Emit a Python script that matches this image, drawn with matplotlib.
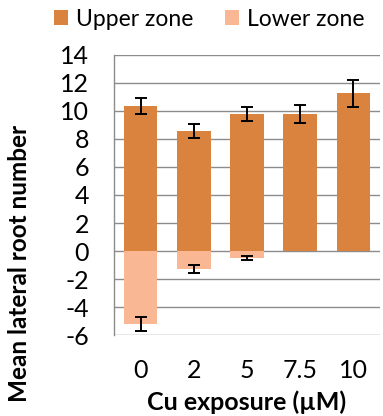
import matplotlib
matplotlib.use('Agg')
import matplotlib.pyplot as plt
import numpy as np

# Cu exposure levels and mean lateral root counts per zone
cu_levels = ['0', '2', '5', '7.5', '10']
upper_mean = [10.35, 8.6, 9.8, 9.8, 11.25]
upper_err = [0.6, 0.5, 0.5, 0.65, 0.98]
lower_mean = [-5.2, -1.3, -0.5, 0.0, 0.0]
lower_err = [0.5, 0.3, 0.13, 0.0, 0.0]
yticks = [-6, -4, -2, 0, 2, 4, 6, 8, 10, 12, 14]

upper_color = '#D9833F'
lower_color = '#F9B794'
grid_color = '#8C8C8C'

plt.rcParams['font.family'] = ['Lato', 'DejaVu Sans']

fig = plt.figure(figsize=(3.83, 4.16), dpi=100)
ax = fig.add_axes([0.2977, 0.1947, 0.6943, 0.6731])

x = np.arange(len(cu_levels))
width = 0.63
err_kw = dict(fmt='none', ecolor='black', elinewidth=1.4, capsize=4.3, capthick=1.4, zorder=4)

ax.bar(x, upper_mean, width, color=upper_color, label='Upper zone', zorder=3)
ax.bar(x, lower_mean, width, color=lower_color, label='Lower zone', zorder=3)
ax.errorbar(x, upper_mean, yerr=upper_err, **err_kw)
# no error bars where the lower zone had no roots
has_err = [i for i, e in enumerate(lower_err) if e > 0]
ax.errorbar(x[has_err], [lower_mean[i] for i in has_err],
            yerr=[lower_err[i] for i in has_err], **err_kw)

ax.set_xlim(-0.5, 4.5)
ax.set_ylim(-6, 14)
ax.set_yticks(yticks)
ax.set_yticklabels([str(t) for t in yticks])
ax.set_xticks(x)
ax.set_xticklabels(cu_levels)

ax.grid(axis='y', color=grid_color, linewidth=1.0, zorder=0)
ax.set_axisbelow(True)
for side in ['top', 'right', 'bottom']:
    ax.spines[side].set_visible(False)
ax.spines['left'].set_color(grid_color)
ax.spines['left'].set_linewidth(1.0)

ax.tick_params(axis='both', length=0, labelsize=18)
ax.tick_params(axis='y', pad=18)
ax.tick_params(axis='x', pad=17)

ax.set_xlabel('Cu exposure (µM)', fontsize=18, fontweight='bold', labelpad=6)
ax.set_ylabel('Mean lateral root number', fontsize=17.5, fontweight='bold')
ax.yaxis.set_label_coords(-0.312, 0.257)

fig.legend(loc='center', bbox_to_anchor=(0.547, 0.954), ncol=2,
           frameon=False, fontsize=16.5, handlelength=0.6, handleheight=0.6,
           handletextpad=0.35, columnspacing=1.4)

plt.savefig('out.png', dpi=100)
